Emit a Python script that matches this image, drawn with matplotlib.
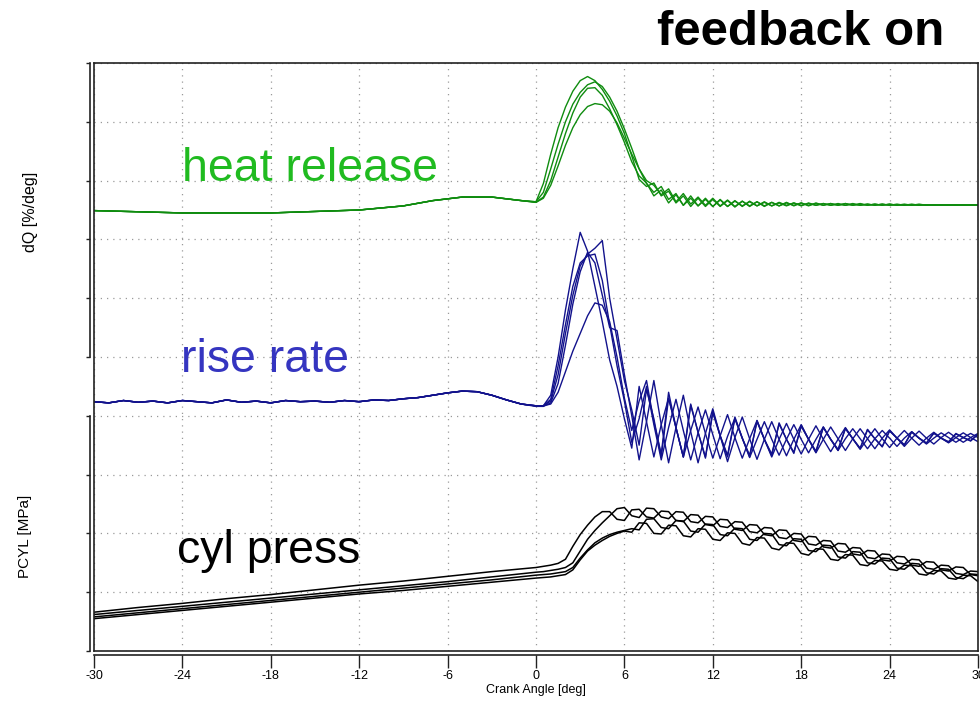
import numpy as np
import matplotlib
matplotlib.use("Agg")
import matplotlib.pyplot as plt
from matplotlib.transforms import blended_transform_factory, ScaledTranslation

plt.rcParams['font.family'] = ['Liberation Sans', 'DejaVu Sans']

# crank angle sampling after TDC (shared by all traces)
post_x = np.arange(0, 30.5, 0.5)

# heat release (dQ), in grid divisions
green_pre_x = [-30, -24, -18, -12, -9, -7, -5, -3, -1]
green_pre = [7.49, 7.45, 7.45, 7.50, 7.57, 7.66, 7.72, 7.72, 7.66]
green_traces = [
    [7.64, 7.95, 8.45, 8.9, 9.25, 9.52, 9.7, 9.77, 9.7, 9.55, 9.35, 9.1, 8.8,
     8.42, 8.02, 7.9, 7.96, 7.74, 7.82, 7.62, 7.74, 7.56, 7.7, 7.56, 7.68,
     7.56, 7.66, 7.55, 7.65, 7.56, 7.64, 7.56, 7.63, 7.57, 7.63, 7.57, 7.62,
     7.57, 7.62, 7.58, 7.61, 7.58, 7.61, 7.58, 7.61, 7.58, 7.6, 7.58, 7.6,
     7.58, 7.6, 7.58, 7.6, 7.58, 7.59, 7.58, 7.59, 7.58, 7.59, 7.58, 7.59],
    [7.64, 7.8, 8.2, 8.62, 9.0, 9.3, 9.5, 9.63, 9.68, 9.6, 9.42, 9.18, 8.88,
     8.55, 8.2, 7.95, 7.8, 7.9, 7.68, 7.78, 7.58, 7.74, 7.57, 7.7, 7.56,
     7.68, 7.56, 7.66, 7.56, 7.65, 7.57, 7.64, 7.57, 7.63, 7.58, 7.62, 7.57,
     7.62, 7.58, 7.61, 7.58, 7.61, 7.58, 7.61, 7.58, 7.6, 7.58, 7.6, 7.58,
     7.6, 7.58, 7.6, 7.58, 7.59, 7.58, 7.59, 7.58, 7.59, 7.58, 7.59, 7.58],
    [7.63, 7.72, 8.0, 8.4, 8.8, 9.15, 9.42, 9.57, 9.58, 9.45, 9.22, 8.95, 8.65,
     8.32, 8.08, 7.96, 7.74, 7.84, 7.62, 7.76, 7.58, 7.7, 7.57, 7.68, 7.56,
     7.67, 7.56, 7.65, 7.57, 7.64, 7.57, 7.63, 7.57, 7.62, 7.57, 7.62, 7.58,
     7.61, 7.58, 7.61, 7.58, 7.6, 7.58, 7.6, 7.58, 7.6, 7.58, 7.6, 7.58,
     7.59, 7.58, 7.59, 7.58, 7.59, 7.58, 7.59, 7.58, 7.59, 7.58, 7.59, 7.58],
    [7.63, 7.7, 7.92, 8.25, 8.6, 8.9, 9.12, 9.26, 9.31, 9.29, 9.18, 8.98, 8.72,
     8.45, 8.2, 8.0, 7.92, 7.76, 7.86, 7.64, 7.78, 7.6, 7.72, 7.58, 7.7,
     7.57, 7.67, 7.56, 7.65, 7.57, 7.64, 7.57, 7.63, 7.57, 7.62, 7.58, 7.62,
     7.58, 7.61, 7.58, 7.61, 7.58, 7.61, 7.58, 7.6, 7.58, 7.6, 7.58, 7.6,
     7.58, 7.59, 7.58, 7.59, 7.58, 7.59, 7.58, 7.59, 7.58, 7.59, 7.58, 7.59],
]

# pressure rise rate
blue_pre_x = list(range(-30, 0))
blue_pre = [4.24, 4.22, 4.26, 4.23, 4.25, 4.22, 4.26, 4.24, 4.22, 4.27,
            4.23, 4.25, 4.22, 4.26, 4.24, 4.25, 4.23, 4.26, 4.24, 4.27,
            4.26, 4.29, 4.31, 4.35, 4.39, 4.42, 4.41, 4.35, 4.27, 4.2]
blue_traces = [
    [4.17, 4.17, 4.35, 5.0, 5.8, 6.5, 7.12, 6.8, 6.2, 5.6, 4.95, 4.5, 3.95,
     3.45, 4.5, 3.9, 3.3, 3.85, 4.3, 3.8, 3.3, 3.75, 4.15, 3.7, 3.28,
     3.66, 4.02, 3.63, 3.28, 3.61, 3.92, 3.6, 3.3, 3.6, 3.87, 3.6, 3.35,
     3.6, 3.83, 3.6, 3.39, 3.6, 3.8, 3.61, 3.43, 3.61, 3.78, 3.61, 3.46,
     3.62, 3.75, 3.62, 3.5, 3.62, 3.72, 3.62, 3.54, 3.63, 3.71, 3.63, 3.56],
    [4.17, 4.17, 4.25, 4.7, 5.4, 6.05, 6.55, 6.75, 6.85, 6.98, 6.0, 5.3, 4.6,
     4.1, 3.5, 4.45, 3.95, 3.3, 4.3, 3.8, 3.3, 4.2, 3.72, 3.28, 4.08,
     3.66, 3.3, 3.98, 3.62, 3.3, 3.92, 3.6, 3.32, 3.88, 3.6, 3.36, 3.84,
     3.6, 3.38, 3.81, 3.6, 3.41, 3.79, 3.61, 3.44, 3.77, 3.61, 3.47, 3.75,
     3.62, 3.5, 3.73, 3.62, 3.53, 3.71, 3.62, 3.55, 3.7, 3.63, 3.57, 3.69],
    [4.16, 4.16, 4.22, 4.55, 5.2, 5.9, 6.45, 6.78, 6.6, 6.05, 5.5, 5.45, 4.7,
     4.0, 3.25, 3.9, 4.6, 3.85, 3.2, 3.8, 4.35, 3.73, 3.2, 3.7, 4.12,
     3.66, 3.22, 3.63, 3.98, 3.61, 3.26, 3.6, 3.9, 3.6, 3.32, 3.6, 3.85,
     3.6, 3.37, 3.6, 3.81, 3.61, 3.41, 3.61, 3.78, 3.61, 3.44, 3.62, 3.76,
     3.62, 3.48, 3.62, 3.74, 3.62, 3.52, 3.63, 3.72, 3.63, 3.55, 3.63, 3.7],
    [4.17, 4.17, 4.2, 4.4, 4.75, 5.1, 5.4, 5.7, 5.92, 5.88, 5.6, 5.0, 4.3,
     3.75, 4.25, 4.6, 3.9, 3.35, 4.4, 3.8, 3.3, 4.18, 3.72, 3.3, 4.05,
     3.66, 3.33, 3.95, 3.62, 3.33, 3.9, 3.6, 3.35, 3.86, 3.6, 3.38, 3.82,
     3.6, 3.4, 3.8, 3.6, 3.43, 3.78, 3.61, 3.45, 3.76, 3.61, 3.48, 3.74,
     3.62, 3.51, 3.72, 3.62, 3.54, 3.7, 3.62, 3.56, 3.69, 3.63, 3.58, 3.68],
    [4.17, 4.17, 4.28, 4.85, 5.55, 6.2, 6.6, 6.72, 6.75, 6.3, 5.55, 4.85, 4.25,
     3.55, 3.95, 4.5, 3.85, 3.25, 3.8, 4.28, 3.75, 3.25, 3.71, 4.1, 3.68,
     3.27, 3.65, 3.96, 3.62, 3.29, 3.6, 3.9, 3.6, 3.33, 3.6, 3.85, 3.6,
     3.37, 3.6, 3.81, 3.6, 3.41, 3.61, 3.78, 3.61, 3.44, 3.61, 3.75, 3.62,
     3.48, 3.62, 3.73, 3.62, 3.52, 3.62, 3.71, 3.63, 3.55, 3.63, 3.7, 3.63],
]

# cylinder pressure
black_pre_x = list(range(-30, 0, 3))
black_pre = [
    [0.66, 0.74, 0.81, 0.89, 0.96, 1.04, 1.12, 1.19, 1.27, 1.35],
    [0.62, 0.69, 0.76, 0.83, 0.90, 0.97, 1.04, 1.11, 1.18, 1.26],
    [0.58, 0.65, 0.72, 0.79, 0.86, 0.93, 1.00, 1.07, 1.14, 1.21],
    [0.55, 0.62, 0.69, 0.76, 0.83, 0.90, 0.97, 1.03, 1.10, 1.17],
]
black_traces = [
    [1.42, 1.44, 1.46, 1.49, 1.56, 1.78, 1.98, 2.14, 2.28, 2.37, 2.37, 2.24, 2.22,
     2.4, 2.41, 2.28, 2.26, 2.38, 2.37, 2.22, 2.2, 2.32, 2.31, 2.15, 2.13,
     2.24, 2.23, 2.07, 2.05, 2.15, 2.14, 1.98, 1.96, 2.06, 2.05, 1.88, 1.86,
     1.95, 1.94, 1.77, 1.75, 1.83, 1.82, 1.65, 1.63, 1.71, 1.7, 1.55, 1.53,
     1.61, 1.6, 1.46, 1.44, 1.52, 1.51, 1.38, 1.36, 1.43, 1.42, 1.3, 1.28],
    [1.34, 1.35, 1.37, 1.39, 1.42, 1.5, 1.7, 1.9, 2.05, 2.18, 2.3, 2.42, 2.44,
     2.3, 2.27, 2.43, 2.42, 2.28, 2.25, 2.37, 2.36, 2.2, 2.18, 2.29, 2.28,
     2.12, 2.1, 2.2, 2.19, 2.03, 2.01, 2.1, 2.09, 1.93, 1.91, 2.0, 1.99,
     1.82, 1.8, 1.88, 1.87, 1.7, 1.68, 1.76, 1.75, 1.59, 1.57, 1.65, 1.64,
     1.5, 1.48, 1.56, 1.55, 1.41, 1.39, 1.46, 1.45, 1.32, 1.3, 1.36, 1.35],
    [1.29, 1.3, 1.31, 1.33, 1.35, 1.42, 1.58, 1.72, 1.84, 1.92, 1.98, 2.02, 2.05,
     2.08, 2.06, 2.24, 2.25, 2.1, 2.08, 2.22, 2.21, 2.04, 2.02, 2.16, 2.15,
     1.98, 1.96, 2.09, 2.08, 1.9, 1.88, 2.0, 1.99, 1.81, 1.79, 1.91, 1.9,
     1.71, 1.69, 1.8, 1.79, 1.6, 1.58, 1.69, 1.68, 1.5, 1.48, 1.58, 1.57,
     1.41, 1.39, 1.49, 1.48, 1.33, 1.31, 1.4, 1.39, 1.25, 1.23, 1.31, 1.3],
    [1.24, 1.25, 1.26, 1.28, 1.3, 1.38, 1.55, 1.7, 1.8, 1.88, 1.95, 2.0, 2.04,
     2.02, 2.18, 2.17, 2.0, 1.99, 2.14, 2.13, 1.96, 1.94, 2.08, 2.07, 1.9,
     1.88, 2.01, 2.0, 1.83, 1.8, 1.93, 1.92, 1.75, 1.72, 1.84, 1.83, 1.66,
     1.63, 1.74, 1.73, 1.56, 1.54, 1.64, 1.63, 1.47, 1.45, 1.54, 1.53, 1.39,
     1.37, 1.46, 1.45, 1.31, 1.29, 1.37, 1.36, 1.24, 1.22, 1.29, 1.28, 1.18],
]

x_ticks = list(range(-30, 31, 6))

fig = plt.figure(figsize=(9.8, 7.03), dpi=100)
ax = fig.add_axes([94 / 980, 1 - 651 / 703, (978 - 94) / 980, (651 - 63) / 703])
ax.set_xlim(-30, 30)
ax.set_ylim(0, 10)

# dotted grid
ax.set_xticks(x_ticks)
ax.set_yticks(range(11))
ax.set_yticklabels([])
ax.grid(True, color='#9a9a9a', linestyle=(0, (1, 4)), linewidth=0.9)
ax.set_axisbelow(True)

for y in green_traces:
    ax.plot(green_pre_x + list(post_x), green_pre + y, color='#0f8c0f', lw=1.0)
for y in blue_traces:
    ax.plot(blue_pre_x + list(post_x), blue_pre + y, color='#12128c', lw=1.0)
for pre, y in zip(black_pre, black_traces):
    ax.plot(black_pre_x + list(post_x), pre + y, color='black', lw=1.1)

# frame + detached axes
for side in ['top', 'right']:
    ax.spines[side].set_linewidth(1.2)
    ax.spines[side].set_color('#222222')
ax.spines['left'].set_position(('outward', 3))
ax.spines['left'].set_bounds(5, 10)
ax.spines['bottom'].set_position(('outward', 3))
for side in ['left', 'bottom']:
    ax.spines[side].set_linewidth(1.2)
    ax.spines[side].set_color('#222222')
ax.plot([0, 0], [0, 1], transform=ax.transAxes, color='#222222', lw=1.2, clip_on=False)
ax.plot([0, 1], [0, 0], transform=ax.transAxes, color='#222222', lw=1.2, clip_on=False)
shift = blended_transform_factory(ax.transAxes, ax.transData) + \
    ScaledTranslation(-3 / 72, 0, fig.dpi_scale_trans)
ax.plot([0, 0], [0, 4], transform=shift, color='#222222', lw=1.2, clip_on=False)

ax.tick_params(axis='y', length=3, width=1, direction='out', color='#222222')
ax.tick_params(axis='x', length=9, width=1, direction='out', color='#222222',
               labelsize=9, pad=2)
ax.set_xticklabels([str(t) for t in x_ticks])
ax.set_xlabel('Crank Angle [deg]', fontsize=9, labelpad=1)

fig.text(30 / 980, 1 - 212 / 703, 'dQ [%/deg]', rotation=90, fontsize=11.5,
         ha='center', va='center')
fig.text(25 / 980, 1 - 536 / 703, 'PCYL [MPa]', rotation=90, fontsize=11,
         ha='center', va='center')

# curve labels
ax.text(-24, 8.0, 'heat release', color='#20bb20', fontsize=33.5, va='baseline')
ax.text(-24.1, 4.75, 'rise rate', color='#3535c0', fontsize=33.5, va='baseline')
ax.text(-24.4, 1.5, 'cyl press', color='black', fontsize=33.5, va='baseline')
fig.text(657 / 980, 1 - 45 / 703, 'feedback on', fontsize=35.5, fontweight='bold',
         va='baseline')

fig.savefig('out.png', dpi=100)
